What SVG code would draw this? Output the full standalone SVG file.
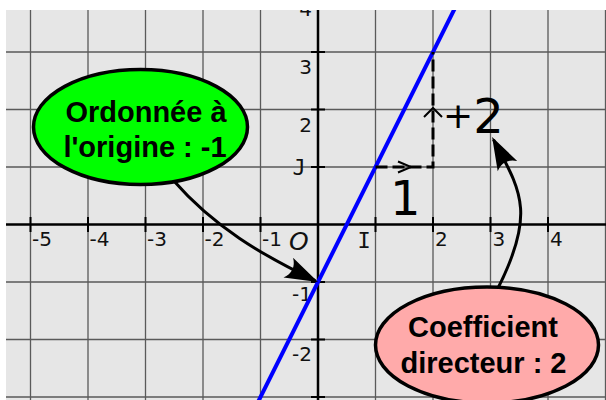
<svg xmlns="http://www.w3.org/2000/svg" width="606" height="400" viewBox="0 0 606 400">
<style>
.grid{stroke:#5a5a5a;stroke-width:1.3;fill:none}
.axis{stroke:#000;stroke-width:2.5;fill:none}
.tick{stroke:#000;stroke-width:2;fill:none}
.ax{font-family:"DejaVu Sans",sans-serif;font-size:20px;fill:#111}
.axe{font-family:"DejaVu Sans",sans-serif;font-size:20px;fill:#111;text-anchor:end}
.mono{font-family:"DejaVu Sans Mono",monospace;font-size:22px;fill:#111;text-anchor:middle}
.big{font-family:"DejaVu Sans",sans-serif;font-size:48px;fill:#000}
.dash{stroke:#000;stroke-width:3;stroke-dasharray:12 5;fill:none}
.chev{stroke:#000;stroke-width:2;fill:none}
.conn{stroke:#000;stroke-width:3;fill:none;marker-end:url(#ah)}
.ell{stroke:#000;stroke-width:3.5}
.lbl{font-family:"Liberation Sans",Arial,sans-serif;font-weight:bold;font-size:29px;fill:#000;text-anchor:middle}
</style>
<defs>
<clipPath id="frame"><rect x="6" y="10" width="600" height="390"/></clipPath>
<marker id="ah" markerUnits="userSpaceOnUse" markerWidth="40" markerHeight="30" refX="0" refY="0" orient="auto" overflow="visible">
<path d="M3,0 L-30,-11 C-24,-4 -24,4 -30,11 Z" fill="#000"/>
</marker>
</defs>
<rect width="606" height="400" fill="#fff"/>
<g clip-path="url(#frame)">
<rect x="6" y="10" width="600" height="390" fill="#e6e6e6"/>
<g id="grid" class="grid">
<path d="M30.5,0V400M88,0V400M145.5,0V400M203,0V400M260.5,0V400M375.5,0V400M433,0V400M490.5,0V400M548,0V400M605.5,0V400"/>
<path d="M0,52H606M0,109.5H606M0,167H606M0,282H606M0,339.5H606M0,397H606"/>
</g>
<g id="axes">
<path class="axis" d="M0,224.5H606M318,0V400"/>
<path class="tick" d="M30.5,217V232M88,217V232M145.5,217V232M203,217V232M260.5,217V232M375.5,217V232M433,217V232M490.5,217V232M548,217V232"/>
<path class="tick" d="M311,-5.5H325M311,52H325M311,109.5H325M311,167H325M311,282H325M311,339.5H325M311,397H325"/>
<text class="ax" x="32" y="246">-5</text>
<text class="ax" x="89.5" y="246">-4</text>
<text class="ax" x="147" y="246">-3</text>
<text class="ax" x="204.5" y="246">-2</text>
<text class="ax" x="262" y="246">-1</text>
<text x="289" y="250" font-family="DejaVu Sans,sans-serif" font-style="italic" font-size="25" fill="#111">O</text>
<text class="mono" x="364" y="248">I</text>
<text class="ax" x="435" y="246">2</text>
<text class="ax" x="492.5" y="246">3</text>
<text class="ax" x="550" y="246">4</text>
<text class="axe" x="312" y="16">4</text>
<text class="axe" x="312" y="74">3</text>
<text class="axe" x="312" y="132">2</text>
<text class="mono" x="299" y="175">J</text>
<text class="axe" x="312" y="301">-1</text>
<text class="axe" x="312" y="361">-2</text>
</g>
<g id="droite">
<path d="M254,410L459,0" stroke="#0000ff" stroke-width="4" fill="none"/>
</g>
<g id="pente">
<path class="dash" d="M375.5,167H433V52"/>
<path class="chev" d="M398,161.5L411,167L398,172.5"/>
<path class="chev" d="M424,117L433,108L442,117"/>
<text class="big" x="390" y="215">1</text>
<text class="big" x="443" y="133"><tspan font-size="36" dy="-5">+</tspan><tspan dy="5">2</tspan></text>
</g>
<g id="connectors">
<path class="conn" d="M173,180C214,227 261.3,254.6 315.3,280.7"/>
<path class="conn" d="M497,290C537,212 520,190 493.5,139.6"/>
</g>
<g id="node-ordonnee">
<ellipse class="ell" cx="140.5" cy="127" rx="107" ry="57.5" fill="#00ff00"/>
<text class="lbl" x="146" y="122">Ordonnée à</text>
<text class="lbl" x="145" y="157">l'origine : -1</text>
</g>
<g id="node-coefficient">
<ellipse class="ell" cx="487" cy="345" rx="111.5" ry="58" fill="#ffaaaa"/>
<text class="lbl" x="483" y="337">Coefficient</text>
<text class="lbl" x="483.5" y="373">directeur : 2</text>
</g>
</g>
</svg>
